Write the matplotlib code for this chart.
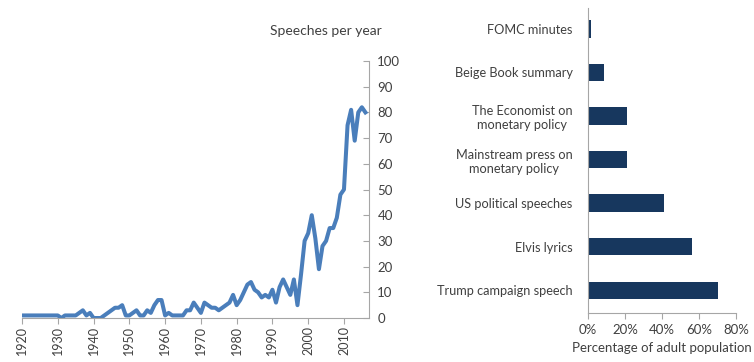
import matplotlib
matplotlib.use('Agg')
import matplotlib.pyplot as plt
import numpy as np

# speeches per year, 1920-2016
years = list(range(1920, 2017))
speeches = [
    1, 1, 1, 1, 1, 1, 1, 1, 1, 1,      # 1920s
    1, 0, 1, 1, 1, 1, 2, 3, 1, 2,      # 1930s
    0, 0, 0, 1, 2, 3, 4, 4, 5, 1,      # 1940s
    1, 2, 3, 1, 1, 3, 2, 5, 7, 7,      # 1950s
    1, 2, 1, 1, 1, 1, 3, 3, 6, 4,      # 1960s
    2, 6, 5, 4, 4, 3, 4, 5, 6, 9,      # 1970s
    5, 7, 10, 13, 14, 11, 10, 8, 9, 8, # 1980s
    11, 6, 12, 15, 12, 9, 15, 5, 17, 30,  # 1990s
    33, 40, 31, 19, 28, 30, 35, 35, 39, 48,  # 2000s
    50, 75, 81, 69, 80, 82, 80,        # 2010s
]

text_types = ['Trump campaign speech', 'Elvis lyrics', 'US political speeches',
              'Mainstream press on\nmonetary policy', 'The Economist on\nmonetary policy',
              'Beige Book summary', 'FOMC minutes']
pct_adult = [70.5, 56, 41, 21, 21, 8.5, 1.5]

txt = '#404040'
spine = '#a6a6a6'
plt.rcParams['font.family'] = ['Lato', 'DejaVu Sans']

fig = plt.figure(figsize=(7.54, 3.62), dpi=100)

# left: line chart
ax1 = fig.add_axes([0.0292, 0.1215, 0.4602, 0.71])
ax1.plot(years, speeches, color='#4a7ebb', lw=2.9, solid_joinstyle='round')
ax1.set_xlim(1920, 2017)
ax1.set_ylim(0, 100)
ax1.set_xticks(range(1920, 2011, 10))
ax1.set_xticklabels([str(y) for y in range(1920, 2011, 10)], rotation=90)
ax1.set_yticks(range(0, 101, 10))
ax1.yaxis.tick_right()
for s in ['top', 'left']:
    ax1.spines[s].set_visible(False)
for s in ['bottom', 'right']:
    ax1.spines[s].set_color(spine)
ax1.tick_params(axis='x', direction='out', length=4, color=spine, labelsize=9,
                labelcolor=txt, pad=2)
ax1.tick_params(axis='y', direction='in', length=4, color=spine, labelsize=9.5,
                labelcolor=txt, pad=6)
ax1.text(1.037, 1.117, 'Speeches per year', transform=ax1.transAxes,
         ha='right', va='center', fontsize=10, color=txt)

# right: horizontal bars
ax2 = fig.add_axes([0.7798, 0.1354, 0.1963, 0.8425])
ypos = np.arange(len(text_types))
ax2.barh(ypos, pct_adult, height=0.4, color='#17375e')
ax2.set_xlim(0, 80)
ax2.set_ylim(-0.52, 6.48)
ax2.set_yticks(ypos)
ax2.set_yticklabels(text_types, ha='right', multialignment='center')
ax2.set_xticks(range(0, 81, 20))
ax2.set_xticklabels([f'{v}%' for v in range(0, 81, 20)])
for s in ['top', 'right']:
    ax2.spines[s].set_visible(False)
for s in ['bottom', 'left']:
    ax2.spines[s].set_color(spine)
ax2.tick_params(axis='y', length=0, labelsize=9.2, labelcolor=txt, pad=11)
ax2.tick_params(axis='x', direction='out', length=4, color=spine, labelsize=9.5,
                labelcolor=txt, pad=4)
ax2.set_xlabel('Percentage of adult population', fontsize=9.5, color=txt, labelpad=4)

fig.savefig('out.png', dpi=100)
